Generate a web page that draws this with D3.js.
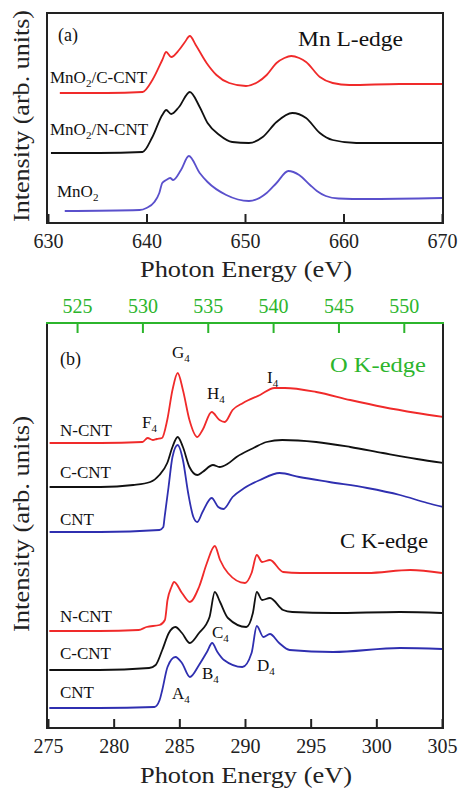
<html lang="en">
<head>
<title>Mn L-edge, O K-edge and C K-edge spectra</title>
<script src="https://d3js.org/d3.v7.min.js"></script>
<style>
  body { margin: 0; background: #fff; }
  svg text { font-family: "Liberation Serif", "Times New Roman", serif; }
  .tick text { font-size: 20px; }
</style>
</head>
<body>
<script>
// ---- data (energy in eV, intensity in arb. units incl. offset) ----
// panel (a): Mn L-edge
var mnCCNT = [[631.2,13.0],[636,13.0],[639.6,13.1],[640.6,14.3],[641.6,16.3],[642.0,17.1],[642.5,16.6],
  [643.3,17.3],[643.9,18.1],[644.4,18.7],[645.0,17.8],[646.1,16.0],[647.1,14.8],[648.4,14.0],[650.1,13.7],
  [651.3,14.1],[652.2,14.8],[653.2,16.0],[654.0,16.5],[654.7,16.7],[655.5,16.5],[656.2,16.1],[657.6,14.6],
  [658.9,14.0],[660.6,13.8],[665.7,13.9],[670,13.9]];
var mnNCNT = [[630.3,7.0],[635.2,7.0],[639.6,7.1],[640.6,8.6],[641.6,10.8],[642.0,11.3],[642.5,10.9],
  [643.3,11.6],[644.4,13.1],[645.4,11.6],[646.2,10.0],[647.4,8.8],[648.7,8.1],[650.4,8.0],[651.8,8.6],
  [653.2,10.1],[654.8,11.0],[656.2,10.5],[657.6,9.0],[658.9,8.3],[661.3,8.0],[670,8.0]];
var mnO2 = [[631.7,1.2],[639.3,1.3],[640.0,1.5],[640.8,2.1],[641.3,3.0],[641.6,4.0],[642.0,4.3],[642.4,4.5],
  [642.7,4.3],[643.5,5.3],[644.3,6.7],[645.4,5.0],[646.2,4.1],[648.1,2.8],[650.4,2.2],[652.2,3.0],[653.2,4.0],
  [654.4,5.2],[655.5,4.8],[656.6,3.8],[657.3,3.2],[658.2,2.7],[659.5,2.45],[662.3,2.4],[670,2.5]];

// panel (b): O K-edge (top axis)
var oNCNT = [[522.9,28.5],[526.8,28.5],[530.0,28.6],[530.4,29.0],[530.8,28.8],[531.1,28.9],[531.5,29.0],
  [531.9,30.8],[532.3,33.8],[532.7,35.5],[533.1,33.8],[533.6,30.8],[534.2,29.1],[534.6,29.8],[535.3,31.6],
  [535.9,30.8],[536.3,30.6],[536.9,31.8],[537.7,32.5],[539.0,33.3],[540.1,34.0],[540.9,34.0],[543.3,33.6],
  [545.9,32.8],[548.4,32.1],[551.0,31.5],[553.0,31.1]];
var oCCNT = [[522.9,24.1],[526.8,24.1],[529.3,24.3],[530.6,24.6],[531.3,25.3],[531.9,26.5],[532.3,28.1],
  [532.7,29.1],[533.1,28.1],[533.6,26.1],[534.2,25.3],[534.6,25.6],[535.4,26.3],[535.9,26.1],[536.5,26.4],
  [537.2,27.1],[538.5,28.0],[539.5,28.6],[540.7,28.8],[543.3,28.6],[545.9,28.1],[548.4,27.5],[551.0,26.9],
  [553.0,26.5]];
var oCNT = [[522.9,19.6],[526.8,19.6],[531.3,19.8],[531.6,20.1],[531.7,21.1],[532.0,24.1],[532.3,27.1],
  [532.7,28.3],[533.1,26.8],[533.5,23.5],[533.9,21.1],[534.2,20.6],[534.6,21.6],[535.3,23.0],[535.8,22.1],
  [536.2,21.9],[536.9,23.1],[537.8,24.0],[539.0,24.8],[540.5,25.5],[542.0,25.1],[544.3,24.6],[547.2,24.0],
  [549.7,23.3],[551.8,22.5],[553.0,22.1]];

// panel (b): C K-edge (bottom axis)
var cNCNT = [[275.1,9.7],[278.9,9.7],[281.9,9.8],[282.5,10.1],[283.5,10.3],[283.9,10.8],[284.1,12.8],
  [284.4,14.1],[284.6,14.6],[285.2,13.5],[285.8,12.6],[286.5,14.1],[287.1,16.5],[287.7,18.2],[288.1,16.8],
  [288.7,15.5],[290.0,14.5],[290.5,15.5],[290.9,17.3],[291.3,16.6],[291.9,16.8],[292.9,15.6],[294.2,15.5],
  [299.3,15.5],[302.6,15.8],[305,15.5]];
var cCCNT = [[275.1,5.8],[278.9,5.8],[282.7,6.0],[283.2,6.3],[283.7,7.8],[284.2,9.5],[284.7,10.1],
  [285.2,9.5],[285.8,8.5],[286.5,9.5],[287.3,11.1],[287.7,13.6],[288.1,12.6],[288.7,11.0],[290.1,10.1],
  [290.6,11.5],[290.9,13.6],[291.3,12.8],[291.9,13.0],[292.9,11.8],[293.6,11.6],[296.7,11.5],[301.8,11.6],
  [305,11.5]];
var cCNT = [[275.1,2.0],[278.9,2.0],[283.1,2.1],[283.5,2.8],[283.7,3.8],[284.1,6.1],[284.7,7.1],[285.2,6.5],
  [285.8,5.1],[286.5,6.3],[287.1,7.6],[287.5,8.5],[287.9,7.6],[288.4,6.8],[289.8,6.1],[290.5,7.5],[290.9,10.2],
  [291.4,9.1],[291.9,9.4],[292.6,8.5],[293.4,7.8],[296.7,7.6],[301.8,8.0],[305,7.9]];

var ticksA = [630, 640, 650, 660, 670];
var ticksO = [525, 530, 535, 540, 545, 550];
var ticksC = [275, 280, 285, 290, 295, 300, 305];

var red = "#f02a2a", black = "#111", blueA = "#5a50cc", blueB = "#2f2fb0", green = "#2cb52c";

var svg = d3.select("body").append("svg").attr("width", 460).attr("height", 791);

// ---- scales ----
var xA = d3.scaleLinear().domain([630, 670]).range([48, 442]);
var yA = d3.scaleLinear().domain([0, 21]).range([223, 13]);
var xO = d3.scaleLinear().domain([522.7, 553]).range([47, 443]);
var xC = d3.scaleLinear().domain([275, 305]).range([48, 442]);
var yB = d3.scaleLinear().domain([0, 40.5]).range([728, 323]);

function curve(g, data, xs, ys, color) {
  var line = d3.line().x(function(d) { return xs(d[0]); }).y(function(d) { return ys(d[1]); })
    .curve(d3.curveMonotoneX);
  g.append("path").datum(data).attr("d", line).attr("fill", "none")
    .attr("stroke", color).attr("stroke-width", 1.8).attr("stroke-linejoin", "round");
}

// label with optional subscript parts: [["MnO"],["2",true],["/C-CNT"]]
function label(x, y, parts, size, color) {
  var t = svg.append("text").attr("x", x).attr("y", y).attr("font-size", size).attr("fill", color || "#111");
  var down = false;
  parts.forEach(function(p) {
    if (p[1]) { t.append("tspan").attr("dy", 4).attr("font-size", size * 0.65).text(p[0]); down = true; }
    else { t.append("tspan").attr("dy", down ? -4 : 0).text(p[0]); down = false; }
  });
  return t;
}

// ---- panel (a) ----
var gA = svg.append("g");
curve(gA, mnCCNT, xA, yA, red);
curve(gA, mnNCNT, xA, yA, black);
curve(gA, mnO2, xA, yA, blueA);
gA.append("rect").attr("x", 47).attr("y", 13).attr("width", 396).attr("height", 210)
  .attr("fill", "none").attr("stroke", "#222").attr("stroke-width", 2);
var axA = gA.append("g").attr("transform", "translate(0,223)")
  .call(d3.axisBottom(xA).tickValues(ticksA).tickSize(-9).tickPadding(11).tickFormat(d3.format("d")));
axA.select(".domain").remove();
axA.selectAll(".tick line").attr("stroke", "#222").attr("stroke-width", 2);
axA.selectAll(".tick text").attr("fill", "#222");

svg.append("text").attr("x", 246).attr("y", 277).attr("text-anchor", "middle").attr("font-size", 23)
  .attr("textLength", 212).attr("lengthAdjust", "spacingAndGlyphs").attr("fill", "#222").text("Photon Energy (eV)");
svg.append("text").attr("transform", "translate(29,116) rotate(-90)").attr("text-anchor", "middle")
  .attr("font-size", 24).attr("textLength", 212).attr("lengthAdjust", "spacingAndGlyphs").attr("fill", "#222")
  .text("Intensity (arb. units)");

label(58, 41, [["(a)"]], 18);
label(298, 46, [["Mn L-edge"]], 21).attr("textLength", 105).attr("lengthAdjust", "spacingAndGlyphs");
label(50, 83, [["MnO"], ["2", true], ["/C-CNT"]], 17);
label(50, 135, [["MnO"], ["2", true], ["/N-CNT"]], 17);
label(57, 197, [["MnO"], ["2", true]], 17);

// ---- panel (b) ----
var gB = svg.append("g");
curve(gB, oNCNT, xO, yB, red);
curve(gB, oCCNT, xO, yB, black);
curve(gB, oCNT, xO, yB, blueB);
curve(gB, cNCNT, xC, yB, red);
curve(gB, cCCNT, xC, yB, black);
curve(gB, cCNT, xC, yB, blueB);

gB.append("line").attr("x1", 47).attr("x2", 47).attr("y1", 323).attr("y2", 728).attr("stroke", "#222").attr("stroke-width", 2);
gB.append("line").attr("x1", 443).attr("x2", 443).attr("y1", 323).attr("y2", 728).attr("stroke", "#222").attr("stroke-width", 2);
gB.append("line").attr("x1", 46).attr("x2", 444).attr("y1", 728).attr("y2", 728).attr("stroke", "#222").attr("stroke-width", 2);
gB.append("line").attr("x1", 46).attr("x2", 444).attr("y1", 323).attr("y2", 323).attr("stroke", green).attr("stroke-width", 2);

var axO = gB.append("g").attr("transform", "translate(0,323)")
  .call(d3.axisTop(xO).tickValues(ticksO).tickSize(-10).tickPadding(10).tickFormat(d3.format("d")));
axO.select(".domain").remove();
axO.selectAll(".tick line").attr("stroke", green).attr("stroke-width", 2);
axO.selectAll(".tick text").attr("fill", green).attr("font-size", 19);

var axC = gB.append("g").attr("transform", "translate(0,728)")
  .call(d3.axisBottom(xC).tickValues(ticksC).tickSize(-9).tickPadding(11).tickFormat(d3.format("d")));
axC.select(".domain").remove();
axC.selectAll(".tick line").attr("stroke", "#222").attr("stroke-width", 2);
axC.selectAll(".tick text").attr("fill", "#222");

svg.append("text").attr("x", 246).attr("y", 783).attr("text-anchor", "middle").attr("font-size", 23)
  .attr("textLength", 212).attr("lengthAdjust", "spacingAndGlyphs").attr("fill", "#222").text("Photon Energy (eV)");
svg.append("text").attr("transform", "translate(29,524) rotate(-90)").attr("text-anchor", "middle")
  .attr("font-size", 24).attr("textLength", 216).attr("lengthAdjust", "spacingAndGlyphs").attr("fill", "#222")
  .text("Intensity (arb. units)");

label(60, 365, [["(b)"]], 18);
label(330, 372, [["O K-edge"]], 21, green).attr("textLength", 96).attr("lengthAdjust", "spacingAndGlyphs");
label(340, 548, [["C K-edge"]], 21).attr("textLength", 88).attr("lengthAdjust", "spacingAndGlyphs");
label(172, 358, [["G"], ["4", true]], 17);
label(267, 383, [["I"], ["4", true]], 17);
label(207, 399, [["H"], ["4", true]], 17);
label(142, 428, [["F"], ["4", true]], 17);
label(60, 436, [["N-CNT"]], 17);
label(60, 478, [["C-CNT"]], 17);
label(60, 525, [["CNT"]], 17);
label(60, 622, [["N-CNT"]], 17);
label(60, 659, [["C-CNT"]], 17);
label(60, 698, [["CNT"]], 17);
label(212, 638, [["C"], ["4", true]], 17);
label(202, 679, [["B"], ["4", true]], 17);
label(172, 699, [["A"], ["4", true]], 17);
label(257, 671, [["D"], ["4", true]], 17);
</script>
</body>
</html>
